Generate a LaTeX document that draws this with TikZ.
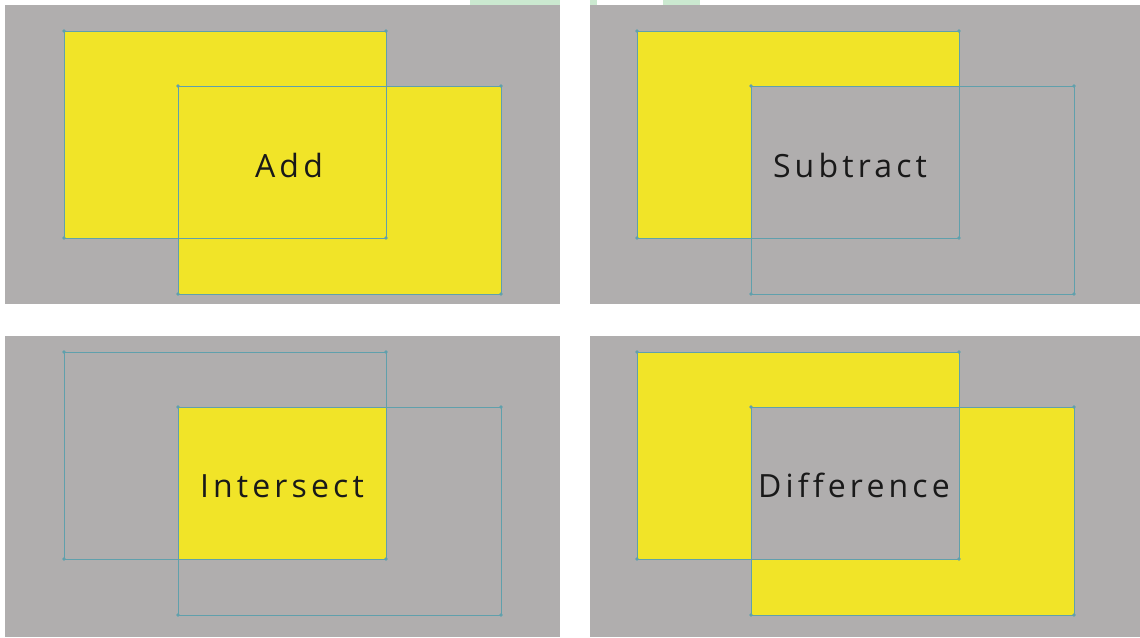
\documentclass[tikz,border=0pt]{standalone}
\usepackage{fontspec}
\newfontfamily\opsans[LetterSpace=13,Ligatures={NoCommon}]{Open Sans}
\definecolor{panelgray}{RGB}{176,174,174}
\definecolor{shapeyellow}{RGB}{241,228,40}
\definecolor{pathblue}{RGB}{96,160,172}
\definecolor{markgreen}{RGB}{203,233,208}

\begin{document}
\begin{tikzpicture}[x=1pt,y=-1pt,
  panel/.style={fill=panelgray},
  solid fill/.style={fill=shapeyellow},
  outline/.style={draw=pathblue,line width=1pt},
  oplabel/.style={anchor=base,text=black!90,font=\opsans\fontsize{32}{32}\selectfont,inner sep=0pt}]
\useasboundingbox (0,0) rectangle (1140,637);
% faint mark at the top edge
\fill[markgreen] (470,0) rectangle (560,5);
\fill[markgreen] (590,0) rectangle (597,5);
\fill[markgreen] (663,0) rectangle (700,5);
% panels
\fill[panel] (5,5) rectangle (560,304);
\fill[panel] (590,5) rectangle (1140,304);
\fill[panel] (5,336) rectangle (560,637);
\fill[panel] (590,336) rectangle (1140,637);
% add
\begin{scope}
  \fill[solid fill] (64,31) rectangle (386,238);
  \fill[solid fill] (178,86) rectangle (501,294);
  \draw[outline] (64,31) rectangle (386,238);
  \draw[outline] (178,86) rectangle (501,294);
  \foreach \p in {(64,31),(386,31),(386,238),(64,238),(178,86),(501,86),(501,294),(178,294)}
    \fill[pathblue] \p circle (1.8);
  \node[oplabel] (add) at (289,177) {Add};
\end{scope}
% subtract
\begin{scope}[shift={(573,0)}]
  \fill[solid fill] (64,31) rectangle (386,238);
  \fill[panel] (178,86) rectangle (501,294);
  \draw[outline] (64,31) rectangle (386,238);
  \draw[outline] (178,86) rectangle (501,294);
  \foreach \p in {(64,31),(386,31),(386,238),(64,238),(178,86),(501,86),(501,294),(178,294)}
    \fill[pathblue] \p circle (1.8);
  \node[oplabel] (subtract) at (277,177) {Subtract};
\end{scope}
% intersect
\begin{scope}[shift={(0,321)}]
  \fill[solid fill] (178,86) rectangle (386,238);
  \draw[outline] (64,31) rectangle (386,238);
  \draw[outline] (178,86) rectangle (501,294);
  \foreach \p in {(64,31),(386,31),(386,238),(64,238),(178,86),(501,86),(501,294),(178,294)}
    \fill[pathblue] \p circle (1.8);
  \node[oplabel] (intersect) at (282,176) {Intersect};
\end{scope}
% difference
\begin{scope}[shift={(573,321)}]
  \fill[solid fill,even odd rule] (64,31) rectangle (386,238) (178,86) rectangle (501,294);
  \draw[outline] (64,31) rectangle (386,238);
  \draw[outline] (178,86) rectangle (501,294);
  \foreach \p in {(64,31),(386,31),(386,238),(64,238),(178,86),(501,86),(501,294),(178,294)}
    \fill[pathblue] \p circle (1.8);
  \node[oplabel] (difference) at (281,176) {Difference};
\end{scope}
\end{tikzpicture}
\end{document}
